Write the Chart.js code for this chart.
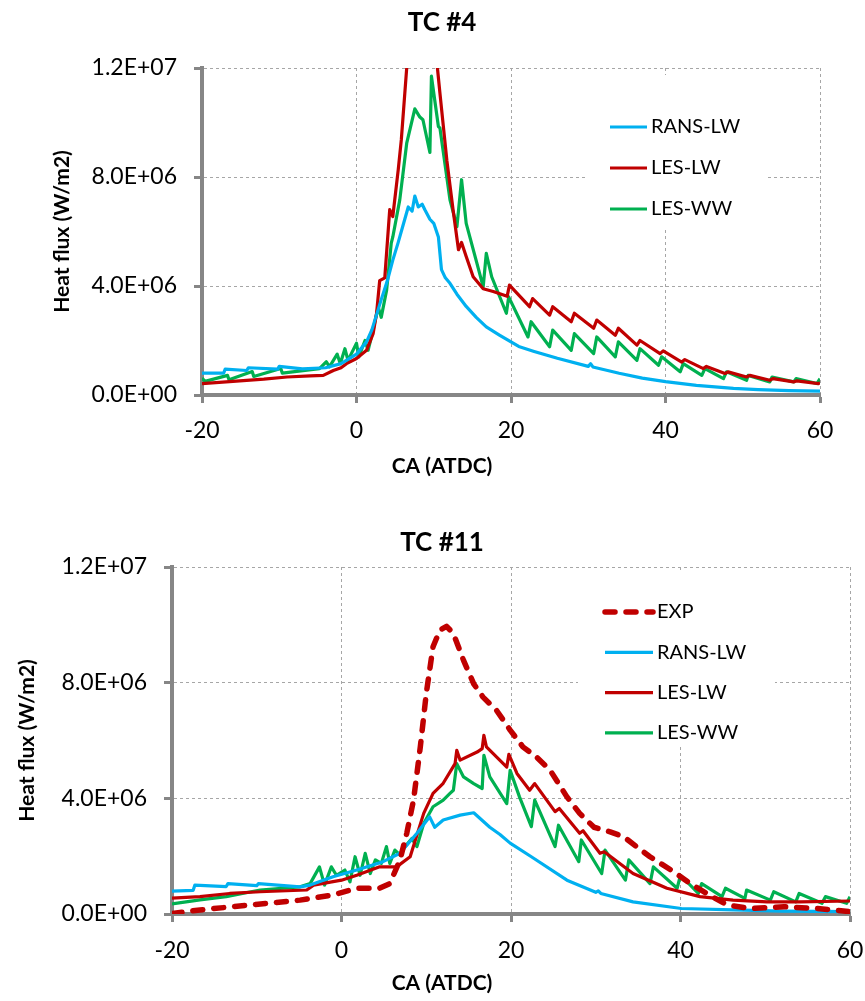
<!DOCTYPE html>
<html>
<head>
<meta charset="utf-8">
<script src="https://cdn.jsdelivr.net/npm/chart.js@4.4.1/dist/chart.umd.min.js"></script>
<style>
  html, body { margin: 0; padding: 0; background: #fff; width: 865px; height: 1001px; overflow: hidden; }
  body { position: relative; }
  canvas { position: absolute; left: 0; }
  #tc4 { top: 0; }
  #tc11 { top: 500px; }
</style>
</head>
<body>
<canvas id="tc4" width="865" height="500"></canvas>
<canvas id="tc11" width="865" height="501"></canvas>
<script>
// Heat flux values are stored in MW/m2 and scaled to W/m2 when plotted.
const FLUX_UNIT = 1e6;

// Axis ticks
const caTicks = { min: -20, max: 60, step: 20 };
const fluxTicks = { min: 0, max: 12e6, step: 4e6 };

// ---------- TC #4 ----------
const tc4RansCa = [-20,-17.2,-17,-14.2,-14,-10.2,-10,-7,-4,-2, 0,1.3,2,3.2,4,4.7,5.4,6,6.7,7.2,
  7.55,8,8.5,8.85,9.5,10,10.6,11,11.5,12.1, 13,14.2,15.5,16.8,18.5,21,23,26,30,30.3,
  30.6,34,37,40,44,48.8,52,56,60];
const tc4RansHf = [0.8,0.8,0.95,0.9,1.0,0.95,1.05,0.96,1.0,1.15, 1.5,1.95,2.4,3.5,4.2,4.95,5.6,6.2,6.9,6.75,
  7.3,6.9,7.0,6.8,6.45,6.3,5.8,4.6,4.3,4.1, 3.7,3.25,2.85,2.5,2.2,1.78,1.6,1.35,1.05,1.15,
  1.03,0.8,0.62,0.49,0.35,0.24,0.2,0.16,0.14];

const tc4LesLwCa = [-20,-16,-12,-9,-6,-4.3,-3,-2,-1.3,0, 1.3,2.15,2.6,3,3.66,4.3,4.7,5.4,5.8,6.5,
  7.5,8.5,9.5,10.3,10.8,11.7,12.5,13.2,13.6,14.2, 15.1,16.4,17.7,19.5,19.8,22.4,22.8,25,25.4,27.8,
  28.2,30.7,31.1,33.5,33.9,36.3,36.7,39.3,39.7,42.1, 42.5,44.9,45.3,47.7,48.1,50.5,50.9,53.5,53.9,56.6,
  57,59.8,60];
const tc4LesLwHf = [0.42,0.5,0.58,0.66,0.7,0.72,0.9,1.0,1.15,1.34, 1.64,2.25,3.0,4.2,4.3,6.8,6.55,8.26,9.36,12.0,
  14,14.5,14,12.5,11.08,8.6,6.8,5.33,5.6,5.08, 4.34,3.9,3.8,3.62,4.03,3.24,3.54,2.93,3.24,2.69,
  3.0,2.45,2.75,2.19,2.45,1.83,2.0,1.52,1.62,1.21, 1.3,0.97,1.05,0.79,0.85,0.66,0.72,0.54,0.6,0.48,
  0.52,0.42,0.45];

const tc4LesWwCa = [-20,-19.6,-16.7,-16.5,-13.5,-13.3,-9.8,-9.6,-4.8,-3.9, -3.5,-2.5,-2.1,-1.5,-1.1,0,0.3,1.1,1.5,2.15,
  2.8,3.2,3.9,4.5,4.7,5.6,6.5,7.55,8.2,8.6, 9.5,9.7,10.6,10.8,12.1,13,13.6,14.2,15.6,16.4,
  16.8,17.5,19.4,19.7,22.2,22.6,25,25.4,27.8,28.2, 30.7,31.1,33.5,33.9,36.3,36.7,39.1,39.5,41.9,42.3,
  44.7,45.1,47.5,47.9,50.5,50.7,53.5,53.8,56.6,56.9, 59.6,60];
const tc4LesWwHf = [0.62,0.5,0.72,0.56,0.86,0.68,0.97,0.8,0.97,1.22, 1.03,1.5,1.15,1.7,1.27,1.9,1.4,2.0,1.64,2.38,
  3.24,2.85,3.85,5.57,5.8,7.16,9.24,10.5,10.2,10.1, 8.9,11.7,9.85,9.8,7.16,6.18,7.9,6.3,4.82,3.97,
  5.2,4.34,3.0,3.6,2.13,2.69,1.77,2.38,1.64,2.25, 1.52,2.13,1.4,1.95,1.27,1.7,1.09,1.4,0.85,1.15,
  0.72,0.97,0.6,0.85,0.54,0.72,0.48,0.66,0.48,0.6, 0.42,0.6];

// ---------- TC #11 ----------
const tc11ExpCa = [-20,-16.7,-10.8,-4.9,-1.0,1.8,4.5,5.7,6.9,7.7, 8.5,9.3,10.0,10.8,11.6,12.4,13.2,14.4,15.6,16.7,
  18.3,19.9,21.4,23.0,24.6,26.6,28.1,29.8,31.7,33.3, 34.8,36.4,39.2,41.1,43.1,45.5,48.2,52.2,56.1,60];
const tc11ExpHf = [0.02,0.14,0.31,0.48,0.66,0.89,0.89,1.05,1.87,2.79, 3.94,5.78,7.62,9.24,9.81,9.95,9.7,8.77,7.96,7.5,
  7.04,6.36,5.78,5.43,4.98,4.05,3.48,3.0,2.84,2.67, 2.33,1.98,1.46,1.06,0.71,0.31,0.19,0.25,0.19,0.08];

const tc11RansCa = [-20,-17.5,-17.3,-13.6,-13.4,-10,-9.8,-4.9,-3.7,-1.0, 1.8,4.9,6.9,8.9,10.4,11.0,12.0,14.0,15.6,17.5,
  18.7,19.9,22.4,26.6,30.0,30.3,30.6,34.4,40.1,46.2, 52,60];
const tc11RansHf = [0.79,0.82,1.0,0.95,1.05,0.98,1.05,0.94,1.0,1.29, 1.52,1.81,2.1,2.79,3.36,3.0,3.25,3.42,3.5,3.0,
  2.75,2.45,1.98,1.17,0.75,0.8,0.71,0.42,0.19,0.14, 0.1,0.08];

const tc11LesLwCa = [-20,-16.7,-13.2,-9.6,-4.1,-3.3,0,1.8,4.5,6.5, 8.1,9.7,10.8,12.0,13.4,13.6,14.0,16.0,16.6,16.8,
  17.1,19.5,19.75,20.7,22.2,22.8,25.2,25.7,28.1,28.5, 30.5,31,34.4,38.4,42.3,46.2,50.2,54.1,60];
const tc11LesLwHf = [0.55,0.6,0.71,0.77,0.83,1.0,1.17,1.34,1.63,1.63, 1.98,3.48,4.17,4.52,5.2,5.66,5.32,5.6,5.72,6.18,
  5.78,5.08,5.52,4.86,4.28,4.51,3.54,3.65,2.79,2.88, 2.1,2.15,1.4,0.89,0.6,0.48,0.42,0.42,0.45];

const tc11LesWwCa = [-20,-16.7,-13.6,-9.6,-4.9,-3.7,-2.6,-2.0,-1.2,-0.6, 0.4,1.0,1.6,2.2,2.8,3.4,4.0,4.7,5.3,5.7,
  6.3,6.9,7.5,8.3,8.9,9.7,10.8,12.0,12.8,13.2, 13.6,14.4,15.6,16.6,16.8,17.5,19.5,19.9,21.0,22.4,
  22.8,25.2,25.6,28.0,28.3,30.7,31.1,33.5,33.9,36.4, 36.8,39.6,40.0,42.1,42.5,44.9,45.3,47.6,47.8,50.6,
  51.0,53.6,54.0,56.7,57.1,59.6,60];
const tc11LesWwHf = [0.35,0.49,0.6,0.83,0.94,1.05,1.63,1.0,1.63,1.34, 1.52,1.11,1.98,1.34,2.1,1.4,1.87,1.75,2.33,1.75,
  2.21,2.04,2.33,2.61,2.33,3.13,3.71,3.94,4.17,4.28, 5.2,4.74,4.51,4.34,5.49,4.74,3.82,4.97,4.05,3.02,
  3.94,2.33,3.07,1.81,2.56,1.4,2.21,1.17,1.87,1.05, 1.63,0.89,1.34,0.71,1.05,0.6,0.89,0.54,0.83,0.48,
  0.77,0.42,0.71,0.37,0.6,0.37,0.6];

// ---------- styling ----------
const FONT = 'Lato';
const COLORS = { rans: '#00B0F0', lesLw: '#C00000', lesWw: '#00B050', exp: '#C00000' };
const AXIS_GRAY = '#868686';
const GRID_GRAY = '#A6A6A6';

function points(ca, hf) {
  return ca.map((x, i) => ({ x: x, y: hf[i] * FLUX_UNIT }));
}

function sciLabel(v) {
  const parts = Number(v).toExponential(1).split('e');
  const e = parseInt(parts[1], 10);
  return parts[0] + 'E' + (e < 0 ? '-' : '+') + String(Math.abs(e)).padStart(2, '0');
}

function solid(label, color, ca, hf) {
  return { label, data: points(ca, hf), borderColor: color, backgroundColor: color,
    borderWidth: 3.2, pointRadius: 0, tension: 0, borderJoinStyle: 'round', fill: false };
}

// Legend drawn inside the plot on a white panel
const insideLegend = {
  id: 'insideLegend',
  beforeDatasetsDraw(chart, args, o) {
    const ctx = chart.ctx;
    ctx.save();
    ctx.fillStyle = '#fff';
    ctx.fillRect(o.box[0], o.box[1], o.box[2] - o.box[0], o.box[3] - o.box[1]);
    chart.data.datasets.forEach((ds, i) => {
      const y = o.firstRow + i * o.rowStep;
      ctx.beginPath();
      ctx.setLineDash(ds.borderDash || []);
      ctx.lineWidth = ds.borderWidth;
      ctx.strokeStyle = ds.borderColor;
      ctx.lineCap = ds.borderCapStyle || 'butt';
      ctx.moveTo(o.lineX[0], y);
      ctx.lineTo(o.lineX[1], y);
      ctx.stroke();
      ctx.setLineDash([]);
      ctx.fillStyle = '#000';
      ctx.font = o.fontSize + 'px ' + FONT;
      ctx.textAlign = 'left';
      ctx.textBaseline = 'middle';
      ctx.fillText(ds.label, o.textX, y);
    });
    ctx.restore();
  }
};

function makeChart(id, cfg) {
  const axisTitleFont = { family: FONT, size: 21, weight: 'bold' };
  return new Chart(document.getElementById(id), {
    type: 'line',
    data: { datasets: cfg.datasets },
    plugins: [insideLegend],
    options: {
      responsive: false,
      animation: false,
      events: [],
      layout: { padding: cfg.padding },
      plugins: {
        legend: { display: false },
        tooltip: { enabled: false },
        title: {
          display: true, text: cfg.title, color: '#000',
          font: { family: FONT, size: 26, weight: 'bold' },
          padding: cfg.titlePadding
        },
        // horizontal axis title, centred on the whole figure
        subtitle: {
          display: true, position: 'bottom', text: 'CA (ATDC)', color: '#000',
          font: axisTitleFont,
          padding: { top: 0, bottom: cfg.xTitlePad }
        },
        insideLegend: cfg.legend
      },
      scales: {
        x: {
          type: 'linear', min: caTicks.min, max: caTicks.max,
          ticks: { stepSize: caTicks.step, color: '#000', padding: 0, maxRotation: 0,
                   font: { family: FONT, size: 23, lineHeight: cfg.xTickLineHeight } },
          grid: { color: GRID_GRAY, lineWidth: 1, tickLength: 8, tickColor: AXIS_GRAY, tickWidth: 3, tickBorderDash: [] },
          border: { color: AXIS_GRAY, width: 4, dash: [3, 3] },
          afterFit(s) { s.height = cfg.xHeight; }
        },
        y: {
          min: fluxTicks.min, max: fluxTicks.max,
          ticks: { stepSize: fluxTicks.step, color: '#000', padding: 17, callback: sciLabel,
                   font: { family: FONT, size: 23 } },
          grid: { color: GRID_GRAY, lineWidth: 1, tickLength: 8, tickColor: AXIS_GRAY, tickWidth: 3, tickBorderDash: [] },
          border: { color: AXIS_GRAY, width: 4, dash: [3, 3] },
          title: { display: true, text: 'Heat flux (W/m2)', color: '#000', font: axisTitleFont,
                   padding: { top: cfg.yTitlePad, bottom: 0 } },
          afterFit(s) { s.width = cfg.yWidth; }
        }
      }
    }
  });
}

function draw() {
  makeChart('tc4', {
    title: 'TC #4',
    padding: { left: 64, right: 45, top: 0, bottom: 0 },
    titlePadding: { top: 7.4, bottom: 29.4 },
    yWidth: 138, yTitlePad: -14.6,
    xHeight: 58.4, xTickLineHeight: 2.39, xTitlePad: 21.4,
    datasets: [
      solid('RANS-LW', COLORS.rans, tc4RansCa, tc4RansHf),
      solid('LES-LW', COLORS.lesLw, tc4LesLwCa, tc4LesLwHf),
      solid('LES-WW', COLORS.lesWw, tc4LesWwCa, tc4LesWwHf)
    ],
    legend: { box: [585, 75, 767, 230], firstRow: 127, rowStep: 41, lineX: [610, 647], textX: 651, fontSize: 20 }
  });

  const exp = solid('EXP', COLORS.exp, tc11ExpCa, tc11ExpHf);
  exp.borderWidth = 5.5;
  exp.borderDash = [10, 11];
  exp.borderCapStyle = 'round';

  makeChart('tc11', {
    title: 'TC #11',
    padding: { left: 34, right: 15, top: 0, bottom: 0 },
    titlePadding: { top: 27.4, bottom: 8.4 },
    yWidth: 138, yTitlePad: -19.6,
    xHeight: 56.4, xTickLineHeight: 2.52, xTitlePad: 5.4,
    datasets: [
      exp,
      solid('RANS-LW', COLORS.rans, tc11RansCa, tc11RansHf),
      solid('LES-LW', COLORS.lesLw, tc11LesLwCa, tc11LesLwHf),
      solid('LES-WW', COLORS.lesWw, tc11LesWwCa, tc11LesWwHf)
    ],
    legend: { box: [578, 73, 775, 247], firstRow: 112, rowStep: 40.3, lineX: [605, 653], textX: 657, fontSize: 20 }
  });
}

if (document.fonts && document.fonts.load) {
  Promise.all([
    document.fonts.load('23px Lato'),
    document.fonts.load('bold 22px Lato')
  ]).then(draw, draw);
} else {
  draw();
}
</script>
</body>
</html>
